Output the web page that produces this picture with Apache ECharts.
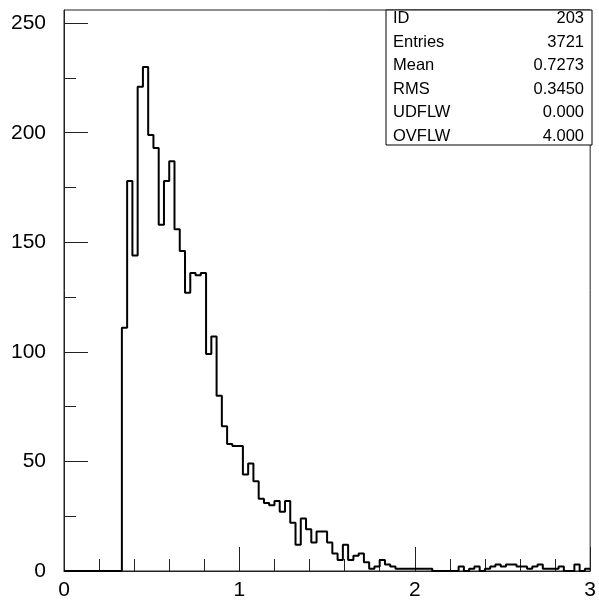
<!DOCTYPE html>
<html>
<head>
<meta charset="utf-8">
<script src="https://cdn.jsdelivr.net/npm/echarts@6/dist/echarts.min.js"></script>
<style>
html,body{margin:0;padding:0;background:#fff;}
#c{width:599px;height:606px;}
</style>
</head>
<body>
<div id="c"></div>
<script>
// Histogram 203: 100 bins from 0 to 3
const xMin = 0;
const xMax = 3;
const binWidth = 0.03;
const counts = [
  0,0,0,0,0,0,0,0,0,0,
  0,111,178,144,221,230,199,193,158,178,
  187,156,146,127,136,135,136,99,107,80,
  66,58,57,57,44,49,41,33,31,30,
  32,27,32,22,12,24,19,13,18,18,
  13,8,5,12,5,7,8,4,1,2,
  5,3,2,1,1,1,1,1,1,1,
  0,0,0,0,0,2,0,1,2,0,
  1,2,3,2,3,3,2,2,1,2,
  3,1,1,1,2,0,0,3,0,1
];
const yMajorTicks = [0, 50, 100, 150, 200, 250];
const yMinorTicks = [25, 75, 125, 175, 225];
const xTickLabels = [0, 1, 2, 3];
const statsLabels = ['ID', 'Entries', 'Mean', 'RMS', 'UDFLW', 'OVFLW'];
const statsValues = ['203', '3721', '0.7273', '0.3450', '0.000', '4.000'];

const histPoints = counts.map((c, i) => [xMin + i * binWidth, c]);
histPoints.push([xMax, counts[counts.length - 1]]);

const chart = echarts.init(document.getElementById('c'), null, {renderer: 'canvas'});
const FONT = 'Liberation Sans';
const grid = {left: 64, right: 7, top: 10, bottom: 35};

const statsGraphics = [];
const boxX = 386, boxY = 10, boxW = 206, boxH = 135, rowH = 23.6;
statsGraphics.push({
  type: 'rect',
  shape: {x: boxX, y: boxY, width: boxW, height: boxH},
  style: {fill: '#fff', stroke: '#000', lineWidth: 1},
  z: 100
});
statsLabels.forEach((lab, i) => {
  statsGraphics.push({
    type: 'text', x: boxX + 7, y: boxY + 8.5 + i * rowH,
    style: {text: lab, fill: '#000', font: '16.5px "' + FONT + '"', align: 'left', verticalAlign: 'middle'},
    z: 101
  });
  statsGraphics.push({
    type: 'text', x: boxX + boxW - 8, y: boxY + 8.5 + i * rowH,
    style: {text: statsValues[i], fill: '#000', font: '16.5px "' + FONT + '"', align: 'right', verticalAlign: 'middle'},
    z: 101
  });
});

chart.setOption({
  animation: false,
  backgroundColor: '#fff',
  grid: Object.assign({show: true, borderColor: '#222', borderWidth: 1, backgroundColor: 'transparent'}, grid),
  xAxis: {
    type: 'value', min: xMin, max: xMax, interval: 1,
    axisLine: {show: true, onZero: false, lineStyle: {color: '#222', width: 1}},
    axisTick: {show: true, inside: true, length: 24, lineStyle: {color: '#222', width: 1}},
    minorTick: {show: true, splitNumber: 5, length: 12, lineStyle: {color: '#222', width: 1}},
    splitLine: {show: false},
    axisLabel: {
      show: true, color: '#000', fontFamily: FONT, fontSize: 21, margin: 9,
      customValues: xTickLabels,
      formatter: v => String(v)
    }
  },
  yAxis: [
    {
      type: 'value', min: 0, max: 256,
      axisLine: {show: true, lineStyle: {color: '#222', width: 1}},
      axisTick: {show: true, inside: true, length: 24, customValues: yMajorTicks, lineStyle: {color: '#222', width: 1}},
      splitLine: {show: false},
      axisLabel: {show: true, color: '#000', fontFamily: FONT, fontSize: 21, margin: 18, customValues: yMajorTicks}
    },
    {
      type: 'value', min: 0, max: 256, position: 'left',
      axisLine: {show: false},
      axisTick: {show: true, inside: true, length: 12, customValues: yMinorTicks, lineStyle: {color: '#222', width: 1}},
      splitLine: {show: false},
      axisLabel: {show: false}
    }
  ],
  series: [{
    type: 'line',
    data: histPoints,
    step: 'end',
    showSymbol: false,
    symbol: 'none',
    clip: false,
    lineStyle: {color: '#000', width: 2},
    z: 10
  }],
  graphic: statsGraphics
});
</script>
</body>
</html>
